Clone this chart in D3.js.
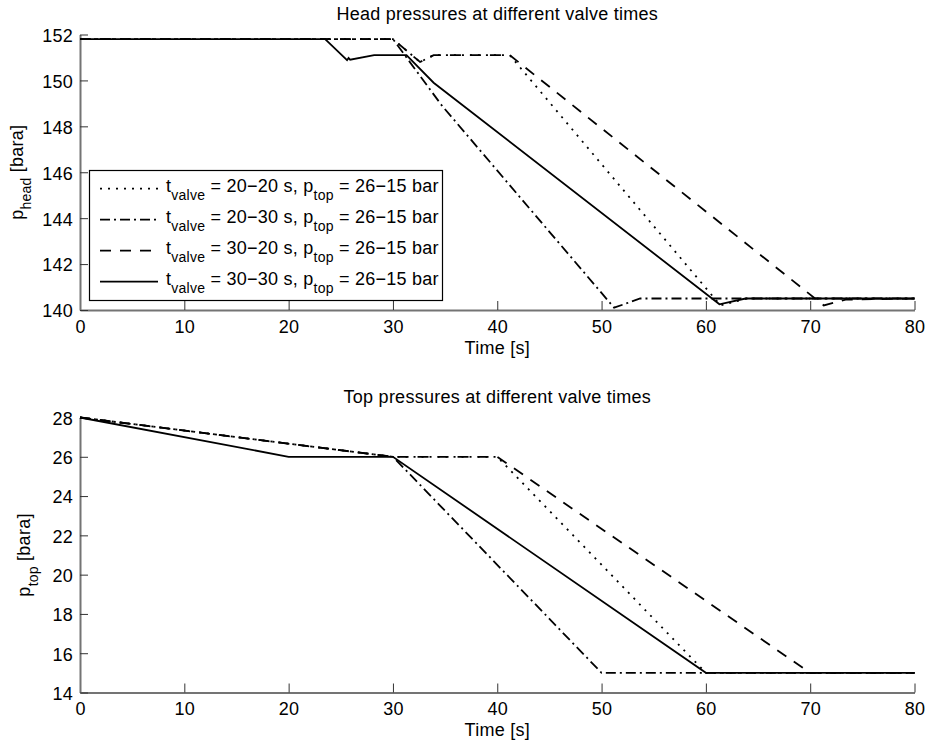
<!DOCTYPE html>
<html>
<head>
<meta charset="utf-8">
<script src="https://cdn.jsdelivr.net/npm/d3@7"></script>
<style>
  body { margin: 0; background: #fff; }
  svg text {
    font-family: "Liberation Sans", Arial, Helvetica, sans-serif;
    font-size: 18px;
    letter-spacing: 0.25px;
    fill: #000;
  }
</style>
</head>
<body>
<svg id="chart" width="928" height="744"></svg>
<script>
// Axis ticks
const timeTicks = [0, 10, 20, 30, 40, 50, 60, 70, 80];
const headTicks = [140, 142, 144, 146, 148, 150, 152];
const topTicks  = [14, 16, 18, 20, 22, 24, 26, 28];

// Legend entries: valve closing times and top-pressure ramp
const valveTimes = ["20−20", "20−30", "30−20", "30−30"];
const topRamp = "26−15";

// Head pressure [bara] against time [s], one array per valve timing
const head2020 = [[0,151.8],[30,151.8],[32.6,150.8],[33.9,151.1],[41.2,151.1],[61.4,140.2],[63.9,140.5],[80,140.5]];
const head2030 = [[0,151.8],[30,151.8],[34.7,148.9],[51.2,140.1],[53.7,140.5],[80,140.5]];
const head3020 = [[0,151.8],[30,151.8],[32.6,150.8],[33.9,151.1],[41.2,151.1],[71.3,140.2],[73.4,140.45],[80,140.5]];
const head3030 = [[0,151.8],[23.5,151.8],[25.6,150.88],[25.75,150.98],[25.9,150.9],[28.2,151.1],[31.3,151.1],[33.9,149.9],[61.3,140.25],[63.8,140.5],[80,140.5]];

// Top pressure [bara] against time [s]
const top2020 = [[0,28],[30,26],[40,26],[60,15],[80,15]];
const top2030 = [[0,28],[30,26],[50,15],[80,15]];
const top3020 = [[0,28],[30,26],[40,26],[70,15],[80,15]];
const top3030 = [[0,28],[20,26],[30,26],[60,15],[80,15]];

// Line styles, in legend order: dotted, dash-dot, dashed, solid
const dashStyles = ["2,6", "10,4,2,4", "11,9", null];

const svg = d3.select("#chart");
const x = d3.scaleLinear().domain([0, 80]).range([80, 914.5]);

function drawPanel(opts) {
  const y = d3.scaleLinear().domain(opts.yDomain).range(opts.yRange);
  const g = svg.append("g");
  const line = d3.line().x(d => x(d[0])).y(d => y(d[1]));

  // axes, ticks pointing into the plot
  const xa = g.append("g")
    .attr("transform", `translate(0,${opts.yRange[0]})`)
    .call(d3.axisBottom(x).tickValues(timeTicks).tickSizeInner(-9).tickSizeOuter(0).tickPadding(10));
  const ya = g.append("g")
    .attr("transform", `translate(${x.range()[0]},0)`)
    .call(d3.axisLeft(y).tickValues(opts.yTicks).tickSizeInner(-8).tickSizeOuter(0).tickPadding(7));
  [xa, ya].forEach(a => {
    a.select(".domain").attr("stroke", "#747474").attr("stroke-width", 2);
    a.selectAll(".tick line").attr("stroke", "#333").attr("stroke-width", 1);
    a.attr("font-size", null).attr("font-family", null);
  });
  ya.selectAll(".tick text").attr("dy", "0.38em");

  // series
  opts.series.forEach((s, i) => {
    g.append("path")
      .datum(s)
      .attr("d", line)
      .attr("fill", "none")
      .attr("stroke", "#000")
      .attr("stroke-width", 1.8)
      .attr("stroke-dasharray", dashStyles[i]);
  });

  // title
  g.append("text")
    .attr("x", (x.range()[0] + x.range()[1]) / 2)
    .attr("y", opts.yRange[1] - 15)
    .attr("text-anchor", "middle")
    .text(opts.title);

  // x label
  g.append("text")
    .attr("x", (x.range()[0] + x.range()[1]) / 2)
    .attr("y", opts.yRange[0] + 43.5)
    .attr("text-anchor", "middle")
    .text("Time [s]");

  // y label with subscript
  const cy = (opts.yRange[0] + opts.yRange[1]) / 2;
  const yl = g.append("text")
    .attr("transform", `translate(${opts.ylabelX},${cy}) rotate(-90)`)
    .attr("text-anchor", "middle");
  yl.append("tspan").text("p");
  yl.append("tspan").attr("dy", 8).attr("font-size", 14).text(opts.ysub);
  yl.append("tspan").attr("dy", -8).text(" [bara]");

  return g;
}

const gHead = drawPanel({
  yDomain: [140, 152], yRange: [310, 34.5], yTicks: headTicks,
  series: [head2020, head2030, head3020, head3030],
  title: "Head pressures at different valve times",
  ysub: "head", ylabelX: 23
});

drawPanel({
  yDomain: [14, 28], yRange: [692.5, 417.5], yTicks: topTicks,
  series: [top2020, top2030, top3020, top3030],
  title: "Top pressures at different valve times",
  ysub: "top", ylabelX: 30
});

// Legend in the head-pressure panel
const leg = gHead.append("g");
leg.append("rect")
  .attr("x", 89.5).attr("y", 170.5)
  .attr("width", 353).attr("height", 130)
  .attr("fill", "#fff").attr("stroke", "#000").attr("stroke-width", 1.2);

valveTimes.forEach((vt, i) => {
  const by = 191.7 + i * 31;
  leg.append("line")
    .attr("x1", 100).attr("x2", 158)
    .attr("y1", by - 3).attr("y2", by - 3)
    .attr("stroke", "#000").attr("stroke-width", 1.8)
    .attr("stroke-dasharray", dashStyles[i]);
  const t = leg.append("text").attr("x", 166).attr("y", by);
  t.append("tspan").text("t");
  t.append("tspan").attr("dy", 8).attr("font-size", 14).text("valve");
  t.append("tspan").attr("dy", -8).text(` = ${vt} s, p`);
  t.append("tspan").attr("dy", 8).attr("font-size", 14).text("top");
  t.append("tspan").attr("dy", -8).text(` = ${topRamp} bar`);
});
</script>
</body>
</html>
